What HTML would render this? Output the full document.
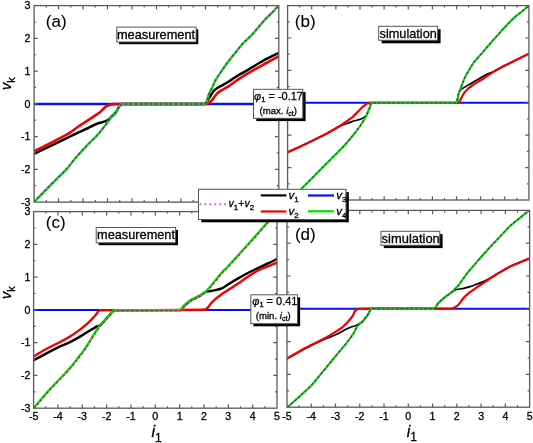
<!DOCTYPE html><html><head><meta charset="utf-8"><style>html,body{margin:0;padding:0;background:#fff;}svg{display:block;will-change:transform}svg,text{font-family:"Liberation Sans",sans-serif}text{stroke:#000;stroke-width:0.3px}</style></head><body>
<svg width="533" height="443" viewBox="0 0 533 443" font-family="Liberation Sans, sans-serif">
<defs><clipPath id="cpa"><rect x="34.1" y="5.6" width="244.70" height="196.50"/></clipPath><clipPath id="cpb"><rect x="287.6" y="5.6" width="241.30" height="194.40"/></clipPath><clipPath id="cpc"><rect x="33.6" y="211.6" width="243.40" height="196.60"/></clipPath><clipPath id="cpd"><rect x="287.0" y="210.4" width="242.60" height="196.80"/></clipPath></defs>
<g clip-path="url(#cpa)"><path d="M34.10,104.00 L278.80,104.00" fill="none" stroke="#0a10f0" stroke-width="2.3" stroke-linejoin="round" stroke-linecap="butt"/>
<path d="M34.10,153.90 C38.69,151.69 44.04,149.11 48.00,147.20 C51.96,145.29 56.70,143.01 60.00,141.40 C63.30,139.79 67.33,137.80 70.00,136.50 C72.67,135.20 75.41,133.86 78.10,132.60 C80.79,131.34 84.77,129.61 87.10,128.50 C89.43,127.39 92.19,125.83 94.10,125.00 C96.01,124.17 98.37,123.33 100.00,122.80 C101.63,122.27 103.83,121.85 105.00,121.40 C106.17,120.95 107.38,120.43 108.40,119.70 C109.42,118.97 110.61,117.49 111.70,116.40 C112.79,115.31 114.71,113.76 115.90,112.20 C117.09,110.64 118.50,107.30 119.20,106.40 C119.90,105.50 120.56,104.00 121.70,104.00 C122.84,104.00 203.28,104.00 204.40,104.00 C205.52,104.00 206.10,102.47 206.80,101.60 C207.50,100.73 209.23,97.79 210.40,96.00 C211.57,94.21 212.72,91.95 214.00,90.60 C215.28,89.25 217.06,88.09 218.50,87.20 C219.94,86.31 221.60,85.70 223.10,84.90 C224.60,84.10 226.76,82.89 228.50,81.80 C230.24,80.71 232.75,78.83 234.80,77.50 C236.85,76.17 240.16,74.13 241.10,73.60 C242.04,73.07 243.06,72.62 244.00,72.10 C244.94,71.58 250.13,68.47 253.10,66.70 C256.07,64.93 259.18,62.92 262.10,61.30 C265.02,59.68 268.66,57.93 271.10,56.70 C273.54,55.47 276.06,54.22 278.50,53.00" fill="none" stroke="#000000" stroke-width="2.5" stroke-linejoin="round" stroke-linecap="butt"/>
<path d="M34.10,151.20 C38.69,148.96 44.02,146.40 48.00,144.40 C51.98,142.40 56.67,139.99 60.00,138.20 C63.33,136.41 67.22,134.38 70.00,132.60 C72.78,130.82 75.38,128.58 78.10,126.70 C80.82,124.82 84.13,122.75 87.10,120.80 C90.07,118.85 94.81,115.75 96.10,114.90 C97.39,114.05 98.93,113.16 100.00,112.30 C101.07,111.44 102.17,110.22 103.00,109.40 C103.83,108.58 104.62,107.58 105.50,106.90 C106.38,106.22 107.37,105.60 108.40,105.20 C109.43,104.80 111.72,104.30 113.40,104.10 C115.08,103.90 117.82,104.00 120.00,104.00 C122.18,104.00 205.39,104.00 206.00,104.00 C206.61,104.00 207.16,103.58 207.70,103.30 C208.24,103.02 210.26,101.95 211.30,101.00 C212.34,100.05 213.10,98.65 214.00,97.50 C214.90,96.35 216.18,94.27 217.60,93.00 C219.02,91.73 221.34,90.58 223.10,89.50 C224.86,88.42 226.77,87.44 228.50,86.30 C230.23,85.16 232.76,83.11 234.80,81.70 C236.84,80.29 240.14,78.23 241.10,77.60 C242.06,76.97 243.03,76.31 244.00,75.70 C244.97,75.09 250.15,71.99 253.10,70.30 C256.05,68.61 259.14,66.93 262.10,65.30 C265.06,63.67 268.67,61.70 271.10,60.40 C273.53,59.10 276.06,57.79 278.50,56.50" fill="none" stroke="#f00000" stroke-width="2.6" stroke-linejoin="round" stroke-linecap="butt"/>
<path d="M34.10,202.00 C36.05,199.95 38.03,197.83 40.00,195.80 C41.97,193.77 51.05,184.57 55.00,180.60 C58.95,176.63 64.15,171.78 67.00,168.60 C69.85,165.42 72.32,161.75 75.10,158.50 C77.88,155.25 82.95,149.71 86.20,146.30 C89.45,142.89 94.90,137.68 96.30,136.20 C97.70,134.72 99.10,133.16 100.40,131.60 C101.70,130.04 104.59,126.33 106.40,123.90 C108.21,121.47 110.44,117.90 111.70,116.40 C112.96,114.90 114.71,113.76 115.90,112.20 C117.09,110.64 118.50,107.30 119.20,106.40 C119.90,105.50 120.56,104.00 121.70,104.00 C122.84,104.00 201.06,104.00 204.40,104.00 C207.74,104.00 207.45,97.20 208.60,94.80 C209.75,92.40 211.09,89.95 212.20,87.60 C213.31,85.25 214.15,82.68 215.40,80.40 C216.65,78.12 221.09,71.65 223.20,68.60 C225.31,65.55 227.70,62.23 229.80,59.50 C231.90,56.77 234.26,54.01 236.40,51.40 C238.54,48.79 240.61,45.98 242.90,43.50 C245.19,41.02 248.65,38.17 251.10,35.60 C253.55,33.03 255.87,30.18 258.20,27.50 C260.53,24.82 263.02,21.73 265.30,19.30 C267.58,16.87 270.48,14.27 272.50,12.20 C274.52,10.13 276.52,7.91 278.50,5.80" fill="none" stroke="#00e000" stroke-width="2.4" stroke-linejoin="round" stroke-linecap="butt"/>
<path d="M34.10,202.00 C36.05,199.95 38.03,197.83 40.00,195.80 C41.97,193.77 51.05,184.57 55.00,180.60 C58.95,176.63 64.15,171.78 67.00,168.60 C69.85,165.42 72.32,161.75 75.10,158.50 C77.88,155.25 82.95,149.71 86.20,146.30 C89.45,142.89 94.90,137.68 96.30,136.20 C97.70,134.72 99.10,133.16 100.40,131.60 C101.70,130.04 104.59,126.33 106.40,123.90 C108.21,121.47 110.44,117.90 111.70,116.40 C112.96,114.90 114.71,113.76 115.90,112.20 C117.09,110.64 118.50,107.30 119.20,106.40 C119.90,105.50 120.56,104.00 121.70,104.00 C122.84,104.00 201.06,104.00 204.40,104.00 C207.74,104.00 207.45,97.20 208.60,94.80 C209.75,92.40 211.09,89.95 212.20,87.60 C213.31,85.25 214.15,82.68 215.40,80.40 C216.65,78.12 221.09,71.65 223.20,68.60 C225.31,65.55 227.70,62.23 229.80,59.50 C231.90,56.77 234.26,54.01 236.40,51.40 C238.54,48.79 240.61,45.98 242.90,43.50 C245.19,41.02 248.65,38.17 251.10,35.60 C253.55,33.03 255.87,30.18 258.20,27.50 C260.53,24.82 263.02,21.73 265.30,19.30 C267.58,16.87 270.48,14.27 272.50,12.20 C274.52,10.13 276.52,7.91 278.50,5.80" fill="none" stroke="#a800d8" stroke-width="1.4" stroke-dasharray="2.4 2.6" stroke-linejoin="round"/></g>
<g clip-path="url(#cpb)"><path d="M287.60,102.80 L528.90,102.80" fill="none" stroke="#0a10f0" stroke-width="1.9" stroke-linejoin="round" stroke-linecap="butt"/>
<path d="M287.60,152.40 C292.85,149.96 298.27,147.49 303.50,145.00 C308.73,142.51 319.33,137.37 322.00,136.00 C324.67,134.63 327.37,133.14 330.00,131.70 C332.63,130.26 339.71,126.09 341.30,125.40 C342.89,124.71 344.67,124.38 346.30,123.80 C347.93,123.22 350.18,122.21 352.00,121.60 C353.82,120.99 356.11,120.44 357.60,120.00 C359.09,119.56 361.24,119.01 362.10,118.60 C362.96,118.19 363.97,117.36 364.50,117.00 C365.03,116.64 365.69,116.40 366.10,115.90 C366.51,115.40 368.92,109.50 369.50,108.00 C370.08,106.50 370.88,103.68 371.10,103.40 C371.32,103.12 371.64,102.80 372.00,102.80 C372.36,102.80 452.37,102.80 455.20,102.80 C458.03,102.80 457.69,96.32 458.30,94.80 C458.91,93.28 459.34,91.25 460.20,90.20 C461.06,89.15 462.46,88.63 463.60,87.90 C464.74,87.17 467.75,85.41 469.80,84.20 C471.85,82.99 474.89,81.22 477.30,79.80 C479.71,78.38 483.34,76.18 484.60,75.50 C485.86,74.82 487.19,74.18 488.50,73.60 C489.81,73.02 492.70,72.03 494.70,71.10 C496.70,70.17 501.56,67.33 505.00,65.60 C508.44,63.87 520.88,57.63 528.70,53.70" fill="none" stroke="#000000" stroke-width="1.7" stroke-linejoin="round" stroke-linecap="butt"/>
<path d="M287.60,152.40 C292.85,149.96 298.27,147.49 303.50,145.00 C308.73,142.51 319.33,137.37 322.00,136.00 C324.67,134.63 327.39,133.17 330.00,131.70 C332.61,130.23 338.84,126.57 341.30,125.00 C343.76,123.43 347.29,120.93 348.60,120.00 C349.91,119.07 351.29,118.15 352.50,117.10 C353.71,116.05 356.71,112.89 358.20,111.40 C359.69,109.92 361.30,108.12 362.70,106.90 C364.10,105.68 366.16,103.97 367.20,103.50 C368.24,103.03 369.45,102.80 370.60,102.80 C371.75,102.80 456.89,102.80 457.60,102.80 C458.31,102.80 458.92,102.13 459.40,101.60 C459.88,101.07 460.79,98.91 461.50,97.60 C462.21,96.29 463.25,94.10 464.20,92.80 C465.15,91.50 466.45,90.18 467.50,89.20 C468.55,88.22 469.75,87.36 470.90,86.50 C472.05,85.64 473.61,84.51 475.00,83.60 C476.39,82.69 479.92,80.70 482.30,79.20 C484.68,77.70 491.38,73.06 494.70,71.10 C498.02,69.14 501.56,67.33 505.00,65.60 C508.44,63.87 520.88,57.63 528.70,53.70" fill="none" stroke="#f00000" stroke-width="2.2" stroke-linejoin="round" stroke-linecap="butt"/>
<path d="M287.60,200.00 C292.25,196.21 297.46,192.76 301.70,188.50 C305.94,184.24 315.73,174.40 322.00,168.10 C328.27,161.80 338.17,151.85 341.00,149.00 C343.83,146.15 346.91,142.67 349.20,140.00 C351.49,137.33 353.95,134.26 355.90,131.70 C357.85,129.14 359.98,126.32 361.60,123.80 C363.22,121.28 364.83,118.44 366.10,115.90 C367.37,113.36 368.92,109.50 369.50,108.00 C370.08,106.50 370.88,103.68 371.10,103.40 C371.32,103.12 371.64,102.80 372.00,102.80 C372.36,102.80 452.37,102.80 455.20,102.80 C458.03,102.80 457.30,97.45 458.30,94.80 C459.30,92.15 460.34,89.09 461.40,86.30 C462.46,83.51 463.54,80.25 464.90,77.40 C466.26,74.55 468.24,71.24 469.80,68.70 C471.36,66.16 472.98,63.55 474.80,61.20 C476.62,58.85 480.27,55.14 482.90,52.10 C485.53,49.06 488.25,45.62 490.80,42.70 C493.35,39.78 496.09,36.87 498.70,34.00 C501.31,31.13 504.06,27.97 506.60,25.30 C509.14,22.63 512.01,19.62 514.50,17.40 C516.99,15.18 520.35,12.81 522.40,11.10 C524.45,9.39 526.49,7.55 528.50,5.80" fill="none" stroke="#00e000" stroke-width="2.1" stroke-linejoin="round" stroke-linecap="butt"/>
<path d="M287.60,200.00 C292.25,196.21 297.46,192.76 301.70,188.50 C305.94,184.24 315.73,174.40 322.00,168.10 C328.27,161.80 338.17,151.85 341.00,149.00 C343.83,146.15 346.91,142.67 349.20,140.00 C351.49,137.33 353.95,134.26 355.90,131.70 C357.85,129.14 359.98,126.32 361.60,123.80 C363.22,121.28 364.83,118.44 366.10,115.90 C367.37,113.36 368.92,109.50 369.50,108.00 C370.08,106.50 370.88,103.68 371.10,103.40 C371.32,103.12 371.64,102.80 372.00,102.80 C372.36,102.80 452.37,102.80 455.20,102.80 C458.03,102.80 457.30,97.45 458.30,94.80 C459.30,92.15 460.34,89.09 461.40,86.30 C462.46,83.51 463.54,80.25 464.90,77.40 C466.26,74.55 468.24,71.24 469.80,68.70 C471.36,66.16 472.98,63.55 474.80,61.20 C476.62,58.85 480.27,55.14 482.90,52.10 C485.53,49.06 488.25,45.62 490.80,42.70 C493.35,39.78 496.09,36.87 498.70,34.00 C501.31,31.13 504.06,27.97 506.60,25.30 C509.14,22.63 512.01,19.62 514.50,17.40 C516.99,15.18 520.35,12.81 522.40,11.10 C524.45,9.39 526.49,7.55 528.50,5.80" fill="none" stroke="#4a4a4a" stroke-width="1.3" stroke-dasharray="2.6 2.1" stroke-linejoin="round"/></g>
<g clip-path="url(#cpc)"><path d="M33.60,310.00 L277.00,310.00" fill="none" stroke="#0a10f0" stroke-width="2.0" stroke-linejoin="round" stroke-linecap="butt"/>
<path d="M33.60,360.30 C38.35,357.76 43.83,354.76 48.00,352.60 C52.17,350.44 57.67,347.63 60.70,346.20 C63.73,344.77 66.99,343.58 70.00,342.10 C73.01,340.62 78.28,337.67 81.30,335.90 C84.32,334.13 88.07,331.65 90.30,330.30 C92.53,328.95 96.21,326.70 97.10,326.30 C97.99,325.90 99.07,325.91 99.90,325.40 C100.73,324.89 102.61,322.69 103.90,321.30 C105.19,319.91 107.31,317.45 108.40,316.20 C109.49,314.95 111.05,313.13 111.70,312.40 C112.35,311.67 113.46,310.32 113.70,310.20 C113.94,310.08 114.23,310.10 114.50,310.10 C114.77,310.10 178.82,310.10 180.10,310.10 C181.38,310.10 181.89,308.21 182.80,307.30 C183.71,306.39 185.14,304.96 186.20,304.00 C187.26,303.04 188.44,301.95 189.50,301.20 C190.56,300.45 191.80,299.80 192.90,299.20 C194.00,298.60 195.18,298.06 196.30,297.50 C197.42,296.94 198.62,296.43 199.70,295.80 C200.78,295.17 202.35,294.00 203.10,293.50 C203.85,293.00 204.57,292.36 205.40,292.00 C206.23,291.64 207.67,291.41 208.80,291.20 C209.93,290.99 212.64,290.80 214.50,290.40 C216.36,290.00 220.40,289.01 222.40,288.10 C224.40,287.19 226.13,285.66 228.00,284.50 C229.87,283.34 234.90,280.30 238.20,278.40 C241.50,276.50 244.98,274.53 248.30,272.80 C251.62,271.07 255.19,269.37 258.50,267.80 C261.81,266.23 265.80,264.54 268.60,263.20 C271.40,261.86 274.23,260.39 277.00,259.00" fill="none" stroke="#000000" stroke-width="2.4" stroke-linejoin="round" stroke-linecap="butt"/>
<path d="M33.60,356.40 C38.35,353.63 43.88,350.22 48.00,348.00 C52.12,345.78 57.59,343.34 60.70,341.70 C63.81,340.06 67.02,338.37 70.00,336.50 C72.98,334.63 78.58,330.71 81.30,328.60 C84.02,326.49 87.90,323.01 89.20,321.80 C90.50,320.59 91.97,319.12 93.00,318.00 C94.03,316.88 94.98,315.63 96.00,314.50 C97.02,313.37 98.03,310.41 99.90,310.40 C101.77,310.39 203.00,309.81 204.30,309.80 C205.60,309.79 206.73,308.67 207.70,307.80 C208.67,306.93 209.88,304.70 211.10,303.30 C212.32,301.90 214.20,300.02 215.60,298.80 C217.00,297.58 218.58,296.48 220.10,295.40 C221.62,294.32 226.53,291.16 226.90,290.90 C227.27,290.64 227.63,290.35 228.00,290.10 C228.37,289.85 234.88,285.74 238.20,283.50 C241.52,281.26 245.01,278.54 248.30,276.40 C251.59,274.26 255.28,271.90 258.50,270.30 C261.72,268.70 265.82,267.36 268.60,266.20 C271.38,265.04 274.23,263.79 277.00,262.60" fill="none" stroke="#f00000" stroke-width="2.4" stroke-linejoin="round" stroke-linecap="butt"/>
<path d="M33.60,408.00 C38.78,401.99 44.36,395.24 49.30,389.80 C54.24,384.36 62.10,376.55 64.70,373.70 C67.30,370.85 70.52,367.16 72.40,364.90 C74.28,362.64 76.09,360.22 77.90,357.90 C79.71,355.58 81.73,353.12 83.40,350.80 C85.07,348.48 86.88,345.66 88.20,343.60 C89.52,341.54 90.81,339.38 92.10,337.30 C93.39,335.22 94.93,332.62 96.00,331.00 C97.07,329.38 98.18,327.71 99.40,326.20 C100.62,324.69 102.43,322.93 103.90,321.30 C105.37,319.67 107.31,317.45 108.40,316.20 C109.49,314.95 111.05,313.13 111.70,312.40 C112.35,311.67 113.46,310.32 113.70,310.20 C113.94,310.08 114.23,310.10 114.50,310.10 C114.77,310.10 178.82,310.10 180.10,310.10 C181.38,310.10 181.89,308.21 182.80,307.30 C183.71,306.39 185.14,304.96 186.20,304.00 C187.26,303.04 188.44,301.95 189.50,301.20 C190.56,300.45 191.80,299.80 192.90,299.20 C194.00,298.60 195.18,298.06 196.30,297.50 C197.42,296.94 198.62,296.43 199.70,295.80 C200.78,295.17 202.01,294.30 203.10,293.50 C204.19,292.70 205.46,291.78 206.50,290.80 C207.54,289.82 209.19,287.81 209.90,287.00 C210.61,286.19 211.31,285.33 212.00,284.50 C212.69,283.67 215.93,279.66 217.80,277.40 C219.67,275.14 222.58,271.53 223.50,270.60 C224.42,269.67 225.56,268.92 226.50,268.00 C227.44,267.08 235.34,258.21 239.70,253.40 C244.06,248.59 250.12,242.01 254.30,237.30 C258.48,232.59 263.47,226.66 266.80,222.90 C270.13,219.14 273.63,215.33 277.00,211.60" fill="none" stroke="#00e000" stroke-width="2.3" stroke-linejoin="round" stroke-linecap="butt"/>
<path d="M33.60,408.00 C38.78,401.99 44.36,395.24 49.30,389.80 C54.24,384.36 62.10,376.55 64.70,373.70 C67.30,370.85 70.52,367.16 72.40,364.90 C74.28,362.64 76.09,360.22 77.90,357.90 C79.71,355.58 81.73,353.12 83.40,350.80 C85.07,348.48 86.88,345.66 88.20,343.60 C89.52,341.54 90.81,339.38 92.10,337.30 C93.39,335.22 94.93,332.62 96.00,331.00 C97.07,329.38 98.18,327.71 99.40,326.20 C100.62,324.69 102.43,322.93 103.90,321.30 C105.37,319.67 107.31,317.45 108.40,316.20 C109.49,314.95 111.05,313.13 111.70,312.40 C112.35,311.67 113.46,310.32 113.70,310.20 C113.94,310.08 114.23,310.10 114.50,310.10 C114.77,310.10 178.82,310.10 180.10,310.10 C181.38,310.10 181.89,308.21 182.80,307.30 C183.71,306.39 185.14,304.96 186.20,304.00 C187.26,303.04 188.44,301.95 189.50,301.20 C190.56,300.45 191.80,299.80 192.90,299.20 C194.00,298.60 195.18,298.06 196.30,297.50 C197.42,296.94 198.62,296.43 199.70,295.80 C200.78,295.17 202.01,294.30 203.10,293.50 C204.19,292.70 205.46,291.78 206.50,290.80 C207.54,289.82 209.19,287.81 209.90,287.00 C210.61,286.19 211.31,285.33 212.00,284.50 C212.69,283.67 215.93,279.66 217.80,277.40 C219.67,275.14 222.58,271.53 223.50,270.60 C224.42,269.67 225.56,268.92 226.50,268.00 C227.44,267.08 235.34,258.21 239.70,253.40 C244.06,248.59 250.12,242.01 254.30,237.30 C258.48,232.59 263.47,226.66 266.80,222.90 C270.13,219.14 273.63,215.33 277.00,211.60" fill="none" stroke="#c0105a" stroke-width="1.2" stroke-dasharray="2.5 2.3" stroke-linejoin="round" transform="translate(0.4,0.6)"/></g>
<g clip-path="url(#cpd)"><path d="M286.80,308.70 L529.20,308.70" fill="none" stroke="#0a10f0" stroke-width="1.9" stroke-linejoin="round" stroke-linecap="butt"/>
<path d="M286.80,358.90 C293.24,355.30 299.75,351.38 306.30,348.00 C312.85,344.62 323.67,339.62 326.70,338.30 C329.73,336.98 333.80,335.61 336.00,334.60 C338.20,333.59 341.66,331.67 342.50,331.20 C343.34,330.73 344.14,330.14 345.00,329.70 C345.86,329.26 350.28,327.35 351.80,326.80 C353.32,326.25 355.80,325.71 356.50,325.40 C357.20,325.09 357.85,324.61 358.50,324.20 C359.15,323.79 360.89,322.88 361.90,322.00 C362.91,321.12 365.04,318.47 366.00,317.20 C366.96,315.93 367.96,314.47 368.70,313.20 C369.44,311.93 370.47,309.45 370.70,309.20 C370.93,308.95 371.26,308.70 371.60,308.70 C371.94,308.70 431.18,308.60 433.50,308.60 C435.82,308.60 436.48,304.96 438.10,303.30 C439.72,301.64 442.93,298.75 444.70,297.30 C446.47,295.85 449.54,293.76 450.30,293.20 C451.06,292.64 451.80,291.99 452.60,291.50 C453.40,291.01 454.36,290.55 455.20,290.20 C456.04,289.85 456.92,289.52 457.80,289.30 C458.68,289.08 461.84,288.83 463.80,288.40 C465.76,287.97 468.00,287.26 470.00,286.60 C472.00,285.94 474.03,285.15 476.00,284.40 C477.97,283.65 481.87,282.21 484.10,281.20 C486.33,280.19 489.25,278.61 490.70,277.80 C492.15,276.99 493.57,276.05 495.00,275.20 C496.43,274.35 503.83,269.70 508.40,267.40 C512.97,265.10 522.20,261.50 529.00,258.60" fill="none" stroke="#000000" stroke-width="1.7" stroke-linejoin="round" stroke-linecap="butt"/>
<path d="M286.80,358.60 C293.24,354.94 299.77,350.99 306.30,347.50 C312.83,344.01 323.62,339.01 326.70,337.30 C329.78,335.59 333.55,333.16 335.80,331.70 C338.05,330.24 340.44,328.81 342.50,327.10 C344.56,325.39 348.08,321.70 349.30,320.30 C350.52,318.90 351.81,317.21 352.70,315.80 C353.59,314.39 354.25,312.23 355.00,311.30 C355.75,310.37 356.68,309.42 357.80,309.00 C358.92,308.58 366.44,308.70 370.70,308.70 C374.96,308.70 449.42,308.70 451.30,308.70 C453.18,308.70 455.23,307.27 456.50,306.40 C457.77,305.53 458.80,304.27 459.80,303.10 C460.80,301.93 461.88,299.92 463.10,298.50 C464.32,297.08 466.73,294.69 468.40,293.30 C470.07,291.91 472.54,290.41 473.80,289.50 C475.06,288.59 476.32,287.58 477.60,286.70 C478.88,285.82 484.07,282.61 486.80,280.80 C489.53,278.99 492.23,276.95 495.00,275.20 C497.77,273.45 503.83,269.70 508.40,267.40 C512.97,265.10 522.20,261.50 529.00,258.60" fill="none" stroke="#f00000" stroke-width="2.2" stroke-linejoin="round" stroke-linecap="butt"/>
<path d="M287.20,407.40 C291.95,403.18 297.59,398.34 301.60,394.60 C305.61,390.86 310.02,387.23 313.50,383.00 C316.98,378.77 327.95,365.43 331.60,361.00 C335.25,356.57 340.87,349.83 342.70,347.60 C344.53,345.37 346.45,343.10 348.20,340.80 C349.95,338.50 352.52,335.09 353.80,333.00 C355.08,330.91 355.92,328.10 357.20,326.40 C358.48,324.70 360.46,323.51 361.90,322.00 C363.34,320.49 365.04,318.47 366.00,317.20 C366.96,315.93 367.96,314.47 368.70,313.20 C369.44,311.93 370.47,309.45 370.70,309.20 C370.93,308.95 371.26,308.70 371.60,308.70 C371.94,308.70 431.18,308.60 433.50,308.60 C435.82,308.60 436.48,304.96 438.10,303.30 C439.72,301.64 442.93,298.75 444.70,297.30 C446.47,295.85 448.74,294.50 450.30,293.20 C451.86,291.90 453.53,290.21 454.80,289.00 C456.07,287.79 457.47,286.64 458.60,285.30 C459.73,283.96 460.66,282.27 461.70,280.80 C462.74,279.33 466.56,273.87 468.40,271.60 C470.24,269.33 472.52,267.05 474.30,265.00 C476.08,262.95 477.81,260.75 479.60,258.70 C481.39,256.65 486.68,250.77 490.00,247.20 C493.32,243.63 496.86,240.02 500.20,236.50 C503.54,232.98 507.11,228.78 510.30,225.80 C513.49,222.82 517.70,219.71 520.50,217.40 C523.30,215.09 526.20,212.71 529.00,210.40" fill="none" stroke="#00e000" stroke-width="2.1" stroke-linejoin="round" stroke-linecap="butt"/>
<path d="M287.20,407.40 C291.95,403.18 297.59,398.34 301.60,394.60 C305.61,390.86 310.02,387.23 313.50,383.00 C316.98,378.77 327.95,365.43 331.60,361.00 C335.25,356.57 340.87,349.83 342.70,347.60 C344.53,345.37 346.45,343.10 348.20,340.80 C349.95,338.50 352.52,335.09 353.80,333.00 C355.08,330.91 355.92,328.10 357.20,326.40 C358.48,324.70 360.46,323.51 361.90,322.00 C363.34,320.49 365.04,318.47 366.00,317.20 C366.96,315.93 367.96,314.47 368.70,313.20 C369.44,311.93 370.47,309.45 370.70,309.20 C370.93,308.95 371.26,308.70 371.60,308.70 C371.94,308.70 431.18,308.60 433.50,308.60 C435.82,308.60 436.48,304.96 438.10,303.30 C439.72,301.64 442.93,298.75 444.70,297.30 C446.47,295.85 448.74,294.50 450.30,293.20 C451.86,291.90 453.53,290.21 454.80,289.00 C456.07,287.79 457.47,286.64 458.60,285.30 C459.73,283.96 460.66,282.27 461.70,280.80 C462.74,279.33 466.56,273.87 468.40,271.60 C470.24,269.33 472.52,267.05 474.30,265.00 C476.08,262.95 477.81,260.75 479.60,258.70 C481.39,256.65 486.68,250.77 490.00,247.20 C493.32,243.63 496.86,240.02 500.20,236.50 C503.54,232.98 507.11,228.78 510.30,225.80 C513.49,222.82 517.70,219.71 520.50,217.40 C523.30,215.09 526.20,212.71 529.00,210.40" fill="none" stroke="#4a4a4a" stroke-width="1.3" stroke-dasharray="2.8 1.9" stroke-linejoin="round"/></g>
<rect x="34.1" y="5.6" width="244.70" height="196.50" fill="none" stroke="#5a5a5a" stroke-width="1.3"/>
<path d="M46.34,5.6v2.0M46.34,202.1v-2.0M58.57,5.6v3.8M58.57,202.1v-3.8M70.81,5.6v2.0M70.81,202.1v-2.0M83.04,5.6v3.8M83.04,202.1v-3.8M95.28,5.6v2.0M95.28,202.1v-2.0M107.51,5.6v3.8M107.51,202.1v-3.8M119.75,5.6v2.0M119.75,202.1v-2.0M131.98,5.6v3.8M131.98,202.1v-3.8M144.22,5.6v2.0M144.22,202.1v-2.0M156.45,5.6v3.8M156.45,202.1v-3.8M168.69,5.6v2.0M168.69,202.1v-2.0M180.92,5.6v3.8M180.92,202.1v-3.8M193.16,5.6v2.0M193.16,202.1v-2.0M205.39,5.6v3.8M205.39,202.1v-3.8M217.62,5.6v2.0M217.62,202.1v-2.0M229.86,5.6v3.8M229.86,202.1v-3.8M242.10,5.6v2.0M242.10,202.1v-2.0M254.33,5.6v3.8M254.33,202.1v-3.8M266.57,5.6v2.0M266.57,202.1v-2.0M34.1,21.98h2.0M278.8,21.98h-2.0M34.1,38.35h3.8M278.8,38.35h-3.8M34.1,54.73h2.0M278.8,54.73h-2.0M34.1,71.10h3.8M278.8,71.10h-3.8M34.1,87.47h2.0M278.8,87.47h-2.0M34.1,103.85h3.8M278.8,103.85h-3.8M34.1,120.22h2.0M278.8,120.22h-2.0M34.1,136.60h3.8M278.8,136.60h-3.8M34.1,152.97h2.0M278.8,152.97h-2.0M34.1,169.35h3.8M278.8,169.35h-3.8M34.1,185.72h2.0M278.8,185.72h-2.0" stroke="#5a5a5a" stroke-width="1.2" fill="none"/>
<rect x="287.6" y="5.6" width="241.30" height="194.40" fill="none" stroke="#5a5a5a" stroke-width="1.3"/>
<path d="M299.67,5.6v2.0M299.67,200.0v-2.0M311.73,5.6v3.8M311.73,200.0v-3.8M323.80,5.6v2.0M323.80,200.0v-2.0M335.86,5.6v3.8M335.86,200.0v-3.8M347.93,5.6v2.0M347.93,200.0v-2.0M359.99,5.6v3.8M359.99,200.0v-3.8M372.06,5.6v2.0M372.06,200.0v-2.0M384.12,5.6v3.8M384.12,200.0v-3.8M396.19,5.6v2.0M396.19,200.0v-2.0M408.25,5.6v3.8M408.25,200.0v-3.8M420.31,5.6v2.0M420.31,200.0v-2.0M432.38,5.6v3.8M432.38,200.0v-3.8M444.44,5.6v2.0M444.44,200.0v-2.0M456.51,5.6v3.8M456.51,200.0v-3.8M468.57,5.6v2.0M468.57,200.0v-2.0M480.64,5.6v3.8M480.64,200.0v-3.8M492.70,5.6v2.0M492.70,200.0v-2.0M504.77,5.6v3.8M504.77,200.0v-3.8M516.84,5.6v2.0M516.84,200.0v-2.0M287.6,21.80h2.0M528.9,21.80h-2.0M287.6,38.00h3.8M528.9,38.00h-3.8M287.6,54.20h2.0M528.9,54.20h-2.0M287.6,70.40h3.8M528.9,70.40h-3.8M287.6,86.60h2.0M528.9,86.60h-2.0M287.6,102.80h3.8M528.9,102.80h-3.8M287.6,119.00h2.0M528.9,119.00h-2.0M287.6,135.20h3.8M528.9,135.20h-3.8M287.6,151.40h2.0M528.9,151.40h-2.0M287.6,167.60h3.8M528.9,167.60h-3.8M287.6,183.80h2.0M528.9,183.80h-2.0" stroke="#5a5a5a" stroke-width="1.2" fill="none"/>
<rect x="33.6" y="211.6" width="243.40" height="196.60" fill="none" stroke="#5a5a5a" stroke-width="1.3"/>
<path d="M45.77,211.6v2.0M45.77,408.2v-2.0M57.94,211.6v3.8M57.94,408.2v-3.8M70.11,211.6v2.0M70.11,408.2v-2.0M82.28,211.6v3.8M82.28,408.2v-3.8M94.45,211.6v2.0M94.45,408.2v-2.0M106.62,211.6v3.8M106.62,408.2v-3.8M118.79,211.6v2.0M118.79,408.2v-2.0M130.96,211.6v3.8M130.96,408.2v-3.8M143.13,211.6v2.0M143.13,408.2v-2.0M155.30,211.6v3.8M155.30,408.2v-3.8M167.47,211.6v2.0M167.47,408.2v-2.0M179.64,211.6v3.8M179.64,408.2v-3.8M191.81,211.6v2.0M191.81,408.2v-2.0M203.98,211.6v3.8M203.98,408.2v-3.8M216.15,211.6v2.0M216.15,408.2v-2.0M228.32,211.6v3.8M228.32,408.2v-3.8M240.49,211.6v2.0M240.49,408.2v-2.0M252.66,211.6v3.8M252.66,408.2v-3.8M264.83,211.6v2.0M264.83,408.2v-2.0M33.6,227.98h2.0M277.0,227.98h-2.0M33.6,244.37h3.8M277.0,244.37h-3.8M33.6,260.75h2.0M277.0,260.75h-2.0M33.6,277.13h3.8M277.0,277.13h-3.8M33.6,293.52h2.0M277.0,293.52h-2.0M33.6,309.90h3.8M277.0,309.90h-3.8M33.6,326.28h2.0M277.0,326.28h-2.0M33.6,342.67h3.8M277.0,342.67h-3.8M33.6,359.05h2.0M277.0,359.05h-2.0M33.6,375.43h3.8M277.0,375.43h-3.8M33.6,391.82h2.0M277.0,391.82h-2.0" stroke="#5a5a5a" stroke-width="1.2" fill="none"/>
<rect x="287.0" y="210.4" width="242.60" height="196.80" fill="none" stroke="#5a5a5a" stroke-width="1.3"/>
<path d="M299.13,210.4v2.0M299.13,407.2v-2.0M311.26,210.4v3.8M311.26,407.2v-3.8M323.39,210.4v2.0M323.39,407.2v-2.0M335.52,210.4v3.8M335.52,407.2v-3.8M347.65,210.4v2.0M347.65,407.2v-2.0M359.78,210.4v3.8M359.78,407.2v-3.8M371.91,210.4v2.0M371.91,407.2v-2.0M384.04,210.4v3.8M384.04,407.2v-3.8M396.17,210.4v2.0M396.17,407.2v-2.0M408.30,210.4v3.8M408.30,407.2v-3.8M420.43,210.4v2.0M420.43,407.2v-2.0M432.56,210.4v3.8M432.56,407.2v-3.8M444.69,210.4v2.0M444.69,407.2v-2.0M456.82,210.4v3.8M456.82,407.2v-3.8M468.95,210.4v2.0M468.95,407.2v-2.0M481.08,210.4v3.8M481.08,407.2v-3.8M493.21,210.4v2.0M493.21,407.2v-2.0M505.34,210.4v3.8M505.34,407.2v-3.8M517.47,210.4v2.0M517.47,407.2v-2.0M287.0,226.80h2.0M529.6,226.80h-2.0M287.0,243.20h3.8M529.6,243.20h-3.8M287.0,259.60h2.0M529.6,259.60h-2.0M287.0,276.00h3.8M529.6,276.00h-3.8M287.0,292.40h2.0M529.6,292.40h-2.0M287.0,308.80h3.8M529.6,308.80h-3.8M287.0,325.20h2.0M529.6,325.20h-2.0M287.0,341.60h3.8M529.6,341.60h-3.8M287.0,358.00h2.0M529.6,358.00h-2.0M287.0,374.40h3.8M529.6,374.40h-3.8M287.0,390.80h2.0M529.6,390.80h-2.0" stroke="#5a5a5a" stroke-width="1.2" fill="none"/>
<text x="30.5" y="9.40" text-anchor="end" font-size="10.6" fill="#000">3</text><text x="30.5" y="42.15" text-anchor="end" font-size="10.6" fill="#000">2</text><text x="30.5" y="74.90" text-anchor="end" font-size="10.6" fill="#000">1</text><text x="30.5" y="107.65" text-anchor="end" font-size="10.6" fill="#000">0</text><text x="30.5" y="140.40" text-anchor="end" font-size="10.6" fill="#000">-1</text><text x="30.5" y="173.15" text-anchor="end" font-size="10.6" fill="#000">-2</text><text x="30.5" y="205.90" text-anchor="end" font-size="10.6" fill="#000">-3</text>
<text x="30.5" y="215.40" text-anchor="end" font-size="10.6" fill="#000">3</text><text x="30.5" y="248.17" text-anchor="end" font-size="10.6" fill="#000">2</text><text x="30.5" y="280.93" text-anchor="end" font-size="10.6" fill="#000">1</text><text x="30.5" y="313.70" text-anchor="end" font-size="10.6" fill="#000">0</text><text x="30.5" y="346.47" text-anchor="end" font-size="10.6" fill="#000">-1</text><text x="30.5" y="379.23" text-anchor="end" font-size="10.6" fill="#000">-2</text><text x="30.5" y="412.00" text-anchor="end" font-size="10.6" fill="#000">-3</text>
<text x="33.60" y="420" text-anchor="middle" font-size="10.6" fill="#000">-5</text><text x="57.94" y="420" text-anchor="middle" font-size="10.6" fill="#000">-4</text><text x="82.28" y="420" text-anchor="middle" font-size="10.6" fill="#000">-3</text><text x="106.62" y="420" text-anchor="middle" font-size="10.6" fill="#000">-2</text><text x="130.96" y="420" text-anchor="middle" font-size="10.6" fill="#000">-1</text><text x="155.30" y="420" text-anchor="middle" font-size="10.6" fill="#000">0</text><text x="179.64" y="420" text-anchor="middle" font-size="10.6" fill="#000">1</text><text x="203.98" y="420" text-anchor="middle" font-size="10.6" fill="#000">2</text><text x="228.32" y="420" text-anchor="middle" font-size="10.6" fill="#000">3</text><text x="252.66" y="420" text-anchor="middle" font-size="10.6" fill="#000">4</text><text x="277.00" y="420" text-anchor="middle" font-size="10.6" fill="#000">5</text>
<text x="287.00" y="420" text-anchor="middle" font-size="10.6" fill="#000">-5</text><text x="311.26" y="420" text-anchor="middle" font-size="10.6" fill="#000">-4</text><text x="335.52" y="420" text-anchor="middle" font-size="10.6" fill="#000">-3</text><text x="359.78" y="420" text-anchor="middle" font-size="10.6" fill="#000">-2</text><text x="384.04" y="420" text-anchor="middle" font-size="10.6" fill="#000">-1</text><text x="408.30" y="420" text-anchor="middle" font-size="10.6" fill="#000">0</text><text x="432.56" y="420" text-anchor="middle" font-size="10.6" fill="#000">1</text><text x="456.82" y="420" text-anchor="middle" font-size="10.6" fill="#000">2</text><text x="481.08" y="420" text-anchor="middle" font-size="10.6" fill="#000">3</text><text x="505.34" y="420" text-anchor="middle" font-size="10.6" fill="#000">4</text><text x="529.60" y="420" text-anchor="middle" font-size="10.6" fill="#000">5</text>
<text transform="translate(10.6,90) rotate(-90)" font-size="14.5" font-style="italic">v<tspan font-size="11" font-style="normal" dy="4.2">k</tspan></text>
<text transform="translate(10.6,299) rotate(-90)" font-size="14.5" font-style="italic">v<tspan font-size="11" font-style="normal" dy="4.2">k</tspan></text>
<text x="151.5" y="437" font-size="16" font-style="italic">i<tspan font-size="12" font-style="normal" dy="4.5">1</tspan></text>
<text x="406.8" y="436.5" font-size="16" font-style="italic">i<tspan font-size="12" font-style="normal" dy="4.5">1</tspan></text>
<text x="45.8" y="27.1" font-size="17" style="stroke-width:0.1px">(a)</text>
<text x="294.8" y="27.3" font-size="17" style="stroke-width:0.1px">(b)</text>
<text x="45.8" y="227.6" font-size="17" style="stroke-width:0.1px">(c)</text>
<text x="294.9" y="239.9" font-size="17" style="stroke-width:0.1px">(d)</text>
<rect x="119.0" y="29.3" width="79.30" height="14.90" fill="#000"/><rect x="116.8" y="27.1" width="79.30" height="14.90" fill="#fff" stroke="#555" stroke-width="1"/>
<text x="116.9" y="38.5" font-size="12.7" textLength="78.2" lengthAdjust="spacingAndGlyphs">measurement</text>
<rect x="381.7" y="29.3" width="58.90" height="14.00" fill="#000"/><rect x="378.7" y="26.3" width="58.90" height="14.00" fill="#fff" stroke="#555" stroke-width="1"/>
<text x="379.6" y="37.6" font-size="12.7" textLength="57.2" lengthAdjust="spacingAndGlyphs">simulation</text>
<rect x="98.60000000000001" y="229.9" width="79.40" height="15.30" fill="#000"/><rect x="96.2" y="227.5" width="79.40" height="15.30" fill="#fff" stroke="#555" stroke-width="1"/>
<text x="97.0" y="239.1" font-size="12.7" textLength="78" lengthAdjust="spacingAndGlyphs">measurement</text>
<rect x="383.8" y="234.10000000000002" width="58.80" height="14.00" fill="#000"/><rect x="381.0" y="231.3" width="58.80" height="14.00" fill="#fff" stroke="#555" stroke-width="1"/>
<text x="381.6" y="242.6" font-size="12.7" textLength="58.2" lengthAdjust="spacingAndGlyphs">simulation</text>
<rect x="256.3" y="92.1" width="49.30" height="29.00" fill="#000"/><rect x="253.5" y="89.3" width="49.30" height="29.00" fill="#fff" stroke="#555" stroke-width="1"/>
<text x="254" y="99.8" font-size="11"><tspan font-style="italic">φ</tspan><tspan font-size="7.5" dy="2.5">1</tspan><tspan dy="-2.5"> = -0.17</tspan></text>
<text x="259.5" y="113.6" font-size="9.6">(max. <tspan font-style="italic">i</tspan><tspan font-size="7" dy="2">ct</tspan><tspan dy="-2">)</tspan></text>
<rect x="253.4" y="297.40000000000003" width="46.70" height="28.90" fill="#000"/><rect x="250.8" y="294.8" width="46.70" height="28.90" fill="#fff" stroke="#555" stroke-width="1"/>
<text x="252.2" y="304.7" font-size="11"><tspan font-style="italic">φ</tspan><tspan font-size="7.5" dy="2.5">1</tspan><tspan dy="-2.5"> = 0.41</tspan></text>
<text x="255.8" y="318.8" font-size="9.6">(min. <tspan font-style="italic">i</tspan><tspan font-size="7" dy="2">ct</tspan><tspan dy="-2">)</tspan></text>
<rect x="201.3" y="192.10000000000002" width="147.50" height="30.20" fill="#000"/><rect x="198.5" y="189.3" width="147.50" height="30.20" fill="#fff" stroke="#555" stroke-width="1"/>
<path d="M199.5,204.2H226" stroke="#d070e0" stroke-width="2" stroke-dasharray="2 2.9" fill="none"/>
<text x="228.6" y="206.6" font-size="10.5" font-style="italic">v<tspan font-size="8" font-style="normal" dy="3.6">1</tspan><tspan font-style="normal" dy="-3.6">+</tspan>v<tspan font-size="8" font-style="normal" dy="3.6">2</tspan></text>
<path d="M260.8,195.4H286.4" stroke="#000" stroke-width="2.2"/>
<path d="M260.8,211.5H286.4" stroke="#f00000" stroke-width="2.2"/>
<path d="M308,195.5H334" stroke="#0a10f0" stroke-width="2.2"/>
<path d="M308,211.3H334" stroke="#00e000" stroke-width="2.2"/>
<text x="288.5" y="198.8" font-size="11.5" font-style="italic">v<tspan font-size="8" font-style="normal" dy="3">1</tspan></text>
<text x="288.5" y="214.8" font-size="11.5" font-style="italic">v<tspan font-size="8" font-style="normal" dy="3">2</tspan></text>
<text x="336.3" y="198.8" font-size="11.5" font-style="italic">v<tspan font-size="8" font-style="normal" dy="3">3</tspan></text>
<text x="336.3" y="214.8" font-size="11.5" font-style="italic">v<tspan font-size="8" font-style="normal" dy="3">4</tspan></text>
</svg></body></html>
